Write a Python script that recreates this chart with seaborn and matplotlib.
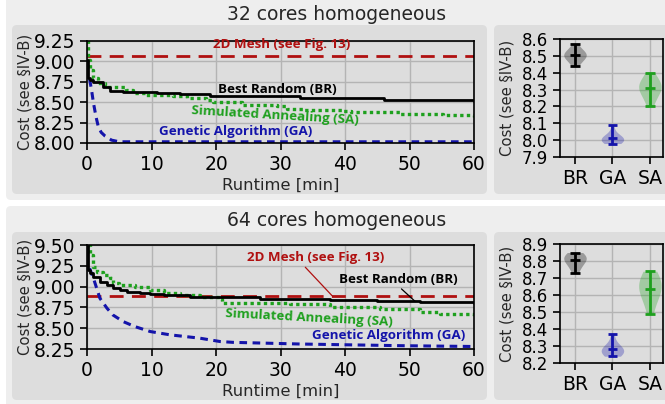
#!/usr/bin/env python3
"""
Cost over runtime for the topology search algorithms (32 / 64 cores) + final cost violins
"""

import pandas as pd
import matplotlib
matplotlib.use('Agg')
import matplotlib.pyplot as plt
from matplotlib.patches import FancyBboxPatch
import seaborn as sns

# --- data ---
# 32 cores
t_br32 = [0, 0.15, 0.5, 1, 2.5, 3.6, 5.6, 10.8, 14.4, 19, 26, 33, 40, 46, 54, 60]
br32 = [9.02, 8.79, 8.77, 8.75, 8.69, 8.64, 8.62, 8.61, 8.595, 8.58, 8.57, 8.555, 8.545, 8.53, 8.52, 8.51]
t_sa32 = [0, 0.2, 0.5, 1, 1.75, 2.8, 4, 6.1, 7.2, 9.2, 13.4, 15.5, 18.5, 19.5, 24, 29.4, 31, 33.5,
          39.7, 41, 48, 48.5, 55.2, 60]
sa32 = [9.25, 9.01, 8.89, 8.79, 8.73, 8.69, 8.68, 8.65, 8.61, 8.59, 8.575, 8.55, 8.53, 8.505, 8.47,
        8.45, 8.42, 8.40, 8.395, 8.38, 8.38, 8.355, 8.34, 8.315]
t_ga32 = [0.4, 0.7, 1.0, 1.4, 1.75, 2.2, 2.8, 3.8, 5, 60]
ga32 = [8.78, 8.65, 8.49, 8.32, 8.20, 8.13, 8.085, 8.035, 8.015, 8.015]
mesh32 = 9.06

# 64 cores
t_br64 = [0, 0.15, 0.47, 1, 2, 3.1, 4, 5.1, 6.2, 8.2, 9.8, 12, 16, 20, 26.8, 37.7, 45, 51.6, 60]
br64 = [9.50, 9.20, 9.16, 9.12, 9.06, 9.02, 8.98, 8.96, 8.93, 8.92, 8.91, 8.90, 8.88, 8.87, 8.85,
        8.835, 8.825, 8.81, 8.80]
t_sa64 = [0.2, 0.47, 1, 1.5, 2.5, 3.6, 4, 5, 7.4, 9.8, 12, 14.4, 17.5, 20.6, 21, 31.5, 37.7, 45.4,
          51.6, 54.7, 60]
sa64 = [9.50, 9.38, 9.24, 9.18, 9.14, 9.10, 9.04, 9.02, 8.99, 8.96, 8.92, 8.90, 8.88, 8.85, 8.80,
        8.79, 8.76, 8.73, 8.70, 8.67, 8.64]
t_ga64 = [0.4, 1, 1.5, 2, 3.1, 4, 5.6, 7.4, 9.8, 12.9, 17.5, 20.6, 22.6, 33, 48.5, 60]
ga64 = [9.22, 9.10, 8.98, 8.86, 8.74, 8.66, 8.58, 8.52, 8.46, 8.42, 8.38, 8.34, 8.33, 8.31, 8.29, 8.28]
mesh64 = 8.89

# final cost per run (violins)
algos = ['BR', 'GA', 'SA']
final32 = {
    'BR': [8.44, 8.47, 8.49, 8.50, 8.50, 8.51, 8.51, 8.52, 8.53, 8.57],
    'GA': [7.98, 7.99, 8.00, 8.00, 8.00, 8.01, 8.01, 8.02, 8.03, 8.09],
    'SA': [8.20, 8.25, 8.28, 8.30, 8.31, 8.32, 8.33, 8.34, 8.35, 8.40],
}
final64 = {
    'BR': [8.73, 8.76, 8.78, 8.80, 8.81, 8.82, 8.82, 8.83, 8.83, 8.85],
    'GA': [8.24, 8.25, 8.26, 8.27, 8.27, 8.28, 8.28, 8.29, 8.31, 8.37],
    'SA': [8.49, 8.56, 8.60, 8.62, 8.64, 8.65, 8.67, 8.69, 8.71, 8.74],
}

COL = {'BR': '#000000', 'GA': '#1414aa', 'SA': '#1ea01e', 'MESH': '#b01010'}
W, H = 665, 404

sns.set_theme(style='ticks')
plt.rcParams['font.family'] = ['DejaVu Sans']
plt.rcParams['axes.unicode_minus'] = False


def px_axes(fig, x0, y0, x1, y1):
    """ピクセル座標(左上原点)で軸を作る"""
    return fig.add_axes([x0 / W, 1 - y1 / H, (x1 - x0) / W, (y1 - y0) / H])


def box(fig, x0, y0, x1, y1, color):
    p = FancyBboxPatch((x0 / 100, (H - y1) / 100), (x1 - x0) / 100, (y1 - y0) / 100,
                       boxstyle='round,pad=0,rounding_size=0.05',
                       transform=fig.dpi_scale_trans, facecolor=color,
                       edgecolor='none', zorder=-10)
    fig.add_artist(p)


def style_axes(ax, ytick_size=13.5):
    ax.set_facecolor('none')
    ax.grid(True, color='#b4b4b4', linewidth=1)
    ax.set_axisbelow(True)
    for s in ax.spines.values():
        s.set_visible(True)
        s.set_color('black')
        s.set_linewidth(1.2)
    ax.tick_params(labelsize=13.5, length=5, width=1.2, colors='black')
    ax.tick_params(axis='y', labelsize=ytick_size)


def plot_runtime(ax, series, mesh, ylim, yticks, labels):
    xs = [0, 60]
    sns.lineplot(x=xs, y=[mesh, mesh], ax=ax, color=COL['MESH'], linewidth=2,
                 linestyle=(0, (5, 3)), estimator=None)
    t_br, br, t_sa, sa, t_ga, ga = series
    sns.lineplot(x=t_ga, y=ga, ax=ax, color=COL['GA'], linewidth=2.2, linestyle=(0, (2.5, 1.8)),
                 estimator=None, sort=False)
    sns.lineplot(x=t_sa, y=sa, ax=ax, color=COL['SA'], linewidth=2.4, linestyle=(0, (1, 1)),
                 estimator=None, sort=False, drawstyle='steps-post')
    sns.lineplot(x=t_br, y=br, ax=ax, color=COL['BR'], linewidth=2,
                 estimator=None, sort=False, drawstyle='steps-post')
    style_axes(ax)
    ax.set_xlim(0, 60)
    ax.set_ylim(*ylim)
    ax.set_yticks(yticks)
    ax.set_yticklabels([f'{v:.2f}' for v in yticks])
    ax.set_xticks([0, 10, 20, 30, 40, 50, 60])
    ax.set_xlabel('Runtime [min]', fontsize=11.8, labelpad=3)
    ax.set_ylabel('Cost (see §IV-B)', fontsize=10.7)
    ax.yaxis.set_label_coords(-0.142, 0.5)

    for key, text, xy, xytext, rot, rel in labels:
        kw = dict(fontsize=9.6, fontweight='bold', family=['Open Sans', 'DejaVu Sans'],
                  color=COL[key], ha='center', va='center', rotation=rot)
        if xy is None:
            ax.text(xytext[0], xytext[1], text, **kw)
        else:
            ax.annotate(text, xy=xy, xytext=xytext,
                        arrowprops=dict(arrowstyle='-', color=COL[key], lw=0.9,
                                        relpos=rel, shrinkA=0, shrinkB=0), **kw)


def plot_violin(ax, final, ylim, yticks):
    df = pd.DataFrame([(a, v) for a in algos for v in final[a]], columns=['algo', 'cost'])
    sns.violinplot(data=df, x='algo', y='cost', hue='algo', order=algos, hue_order=algos,
                   palette=[COL[a] for a in algos], inner=None, cut=0, width=0.6,
                   bw_adjust=1.4, density_norm='width', linewidth=0, saturation=1,
                   legend=False, ax=ax)
    for c in ax.collections:
        c.set_alpha(0.3)
    for i, a in enumerate(algos):
        vals = final[a]
        lo, hi, mean = min(vals), max(vals), sum(vals) / len(vals)
        ax.vlines(i, lo, hi, color=COL[a], linewidth=2)
        ax.hlines([lo, mean, hi], i - 0.13, i + 0.13, color=COL[a], linewidth=2)
    style_axes(ax, ytick_size=12)
    ax.set_xlim(-0.4, 2.35)
    ax.set_ylim(*ylim)
    ax.set_yticks(yticks)
    ax.set_yticklabels([f'{v:.1f}' for v in yticks])
    ax.set_xlabel('')
    ax.set_ylabel('Cost (see §IV-B)', fontsize=10.7)
    ax.yaxis.set_label_coords(-0.44, 0.5)


def main():
    fig = plt.figure(figsize=(W / 100, H / 100), dpi=100)
    fig.patch.set_facecolor('white')

    # 背景の枠
    box(fig, 6, -10, 680, 200, '#eeeeee')
    box(fig, 6, 206, 680, 414, '#eeeeee')
    for y0, y1 in [(25, 194), (232, 400)]:
        box(fig, 12, y0, 487, y1, '#dddddd')
        box(fig, 494, y0, 680, y1, '#dddddd')

    fig.text(337 / W, 1 - 14 / H, '32 cores homogeneous', ha='center', va='center', fontsize=13.5)
    fig.text(337 / W, 1 - 220 / H, '64 cores homogeneous', ha='center', va='center', fontsize=13.5)

    # 32 cores
    ax = px_axes(fig, 87, 40.7, 474, 143)
    plot_runtime(ax, (t_br32, br32, t_sa32, sa32, t_ga32, ga32), mesh32,
                 (8.0, 9.25), [8.0, 8.25, 8.5, 8.75, 9.0, 9.25],
                 [('MESH', '2D Mesh (see Fig. 13)', None, (30.2, 9.20), 0, None),
                  ('BR', 'Best Random (BR)', None, (29.5, 8.656), 0, None),
                  ('SA', 'Simulated Annealing (SA)', None, (29.2, 8.34), -3.4, None),
                  ('GA', 'Genetic Algorithm (GA)', None, (23.0, 8.14), 0, None)])
    ax = px_axes(fig, 560, 39, 663, 157)
    plot_violin(ax, final32, (7.9, 8.6), [7.9, 8.0, 8.1, 8.2, 8.3, 8.4, 8.5, 8.6])

    # 64 cores
    ax = px_axes(fig, 87, 245, 474, 349)
    plot_runtime(ax, (t_br64, br64, t_sa64, sa64, t_ga64, ga64), mesh64,
                 (8.25, 9.5), [8.25, 8.5, 8.75, 9.0, 9.25, 9.5],
                 [('MESH', '2D Mesh (see Fig. 13)', (38.0, 8.89), (35.5, 9.35), 0, (0.4, 0)),
                  ('BR', 'Best Random (BR)', (50.9, 8.82), (48.2, 9.09), 0, (0.5, 0)),
                  ('SA', 'Simulated Annealing (SA)', None, (34.4, 8.62), -3.0, None),
                  ('GA', 'Genetic Algorithm (GA)', None, (46.8, 8.41), 0, None)])
    ax = px_axes(fig, 560, 244, 663, 363)
    plot_violin(ax, final64, (8.2, 8.9), [8.2, 8.3, 8.4, 8.5, 8.6, 8.7, 8.8, 8.9])

    plt.savefig('out.png', dpi=100)
    plt.close()


if __name__ == '__main__':
    main()
